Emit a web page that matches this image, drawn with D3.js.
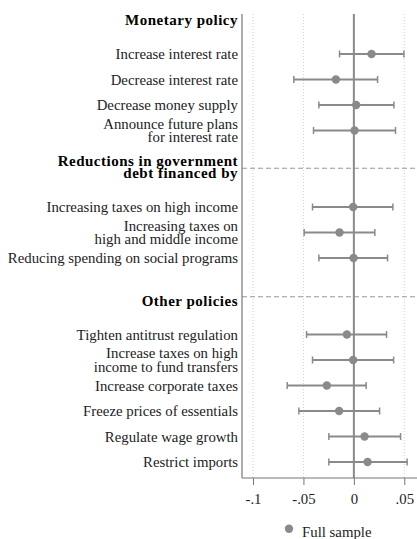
<!DOCTYPE html>
<html><head><meta charset="utf-8">
<script src="https://cdn.jsdelivr.net/npm/d3@7"></script>
<style>body{margin:0;background:#fff}svg{display:block}</style>
</head><body>
<script>
// ---- data ----
const labels = [
  ["Increase interest rate"],
  ["Decrease interest rate"],
  ["Decrease money supply"],
  ["Announce future plans","for interest rate"],
  ["Increasing taxes on high income"],
  ["Increasing taxes on","high and middle income"],
  ["Reducing spending on social programs"],
  ["Tighten antitrust regulation"],
  ["Increase taxes on high","income to fund transfers"],
  ["Increase corporate taxes"],
  ["Freeze prices of essentials"],
  ["Regulate wage growth"],
  ["Restrict imports"]
];
const rowIndex = [0,1,2,3,6,7,8,11,12,13,14,15,16];
const estimates = [0.0175,-0.0178,0.0023,0.0007,-0.0007,-0.0142,-0.0003,-0.0069,-0.0007,-0.0268,-0.0146,0.0106,0.0136];
const ciLow  = [-0.0142,-0.0595,-0.0347,-0.0400,-0.0410,-0.0493,-0.0347,-0.0469,-0.0410,-0.0661,-0.0545,-0.0248,-0.0248];
const ciHigh = [0.0496,0.0235,0.0397,0.0413,0.0387,0.0208,0.0334,0.0324,0.0394,0.0122,0.0255,0.0463,0.0528];
const headers = [
  {lines:["Monetary policy"], idx:-1.33},
  {lines:["Reductions in government","debt financed by"], idx:4.45},
  {lines:["Other policies"], idx:9.67}
];
const dividers = [4.48, 9.52];
const xTicks = [-0.1,-0.05,0,0.05];
const xTickLabels = ["-.1","-.05","0",".05"];
const legendLabel = "Full sample";

// ---- drawing ----
(function(){
const W=417,H=539;
const svg=d3.select("body").append("svg").attr("width",W).attr("height",H);
const FONT="'Liberation Serif', 'Times New Roman', serif";
const grey="#8a8a8a";
const x=d3.scaleLinear().domain([-0.1,0.05]).range([253,404.3]);
const y=d3.scaleLinear().domain([0,16]).range([54,462]);
const pL=242, pR=417, pT=14, pB=478;

svg.append("g").selectAll("line").data(xTicks.filter(t=>t!==0)).join("line")
  .attr("x1",d=>x(d)).attr("x2",d=>x(d)).attr("y1",pT).attr("y2",pB)
  .attr("stroke","#cfcfcf").attr("stroke-width",1).attr("stroke-dasharray","1,2");

svg.append("g").selectAll("line").data(dividers).join("line")
  .attr("x1",pL).attr("x2",pR).attr("y1",d=>y(d)).attr("y2",d=>y(d))
  .attr("stroke","#999").attr("stroke-width",1).attr("stroke-dasharray","5,3");

svg.append("line").attr("x1",x(0)).attr("x2",x(0)).attr("y1",pT).attr("y2",pB)
  .attr("stroke",grey).attr("stroke-width",2);

const xa=d3.axisBottom(x).tickValues(xTicks).tickFormat((d,i)=>xTickLabels[i]).tickSize(7).tickSizeOuter(0);
const gx=svg.append("g").attr("transform",`translate(0,${pB})`).call(xa);
gx.select(".domain").remove();
gx.selectAll(".tick line").attr("stroke","#777").attr("stroke-width",1);
gx.selectAll(".tick text").attr("font-family",FONT).attr("font-size",14.8).attr("fill","#222").attr("dy","1.05em");
svg.append("line").attr("x1",pL).attr("x2",pR).attr("y1",pB).attr("y2",pB).attr("stroke","#777").attr("stroke-width",1.2);
svg.append("line").attr("x1",pL).attr("x2",pL).attr("y1",pT).attr("y2",pB).attr("stroke","#777").attr("stroke-width",1.2);

const g=svg.append("g");
const data=estimates.map((e,i)=>({e,lo:ciLow[i],hi:ciHigh[i],r:rowIndex[i],lab:labels[i]}));
g.selectAll("line.ci").data(data).join("line").attr("class","ci")
  .attr("x1",d=>x(d.lo)).attr("x2",d=>x(d.hi)).attr("y1",d=>y(d.r)).attr("y2",d=>y(d.r))
  .attr("stroke",grey).attr("stroke-width",2);
["lo","hi"].forEach(k=>{
  g.selectAll("line.cap"+k).data(data).join("line").attr("class","cap"+k)
    .attr("x1",d=>x(d[k])).attr("x2",d=>x(d[k])).attr("y1",d=>y(d.r)-3.5).attr("y2",d=>y(d.r)+3.5)
    .attr("stroke",grey).attr("stroke-width",1.5);
});
g.selectAll("circle").data(data).join("circle")
  .attr("cx",d=>x(d.e)).attr("cy",d=>y(d.r)).attr("r",4.2).attr("fill",grey);

function multiline(lines, cy, lh, attrs){
  const n=lines.length;
  const t=svg.append("text").attr("text-anchor","end");
  Object.entries(attrs).forEach(([k,v])=>t.attr(k,v));
  lines.forEach((s,j)=>{
    t.append("tspan").attr("x",238).attr("y",cy+(j-(n-1)/2)*lh)
      .attr("dominant-baseline","central").text(s);
  });
}
data.forEach(d=>multiline(d.lab, y(d.r), 13.5,
  {"font-family":FONT,"font-size":14.8,"fill":"#222"}));
headers.forEach(h=>multiline(h.lines, y(h.idx), 12,
  {"font-family":FONT,"font-size":15,"letter-spacing":0.5,"font-weight":"bold","fill":"#000"}));

svg.append("circle").attr("cx",289).attr("cy",528.7).attr("r",4.2).attr("fill",grey);
svg.append("text").attr("x",302).attr("y",536.5).attr("font-family",FONT).attr("font-size",14.8).attr("fill","#222").text(legendLabel);
})();
</script>
</body></html>
